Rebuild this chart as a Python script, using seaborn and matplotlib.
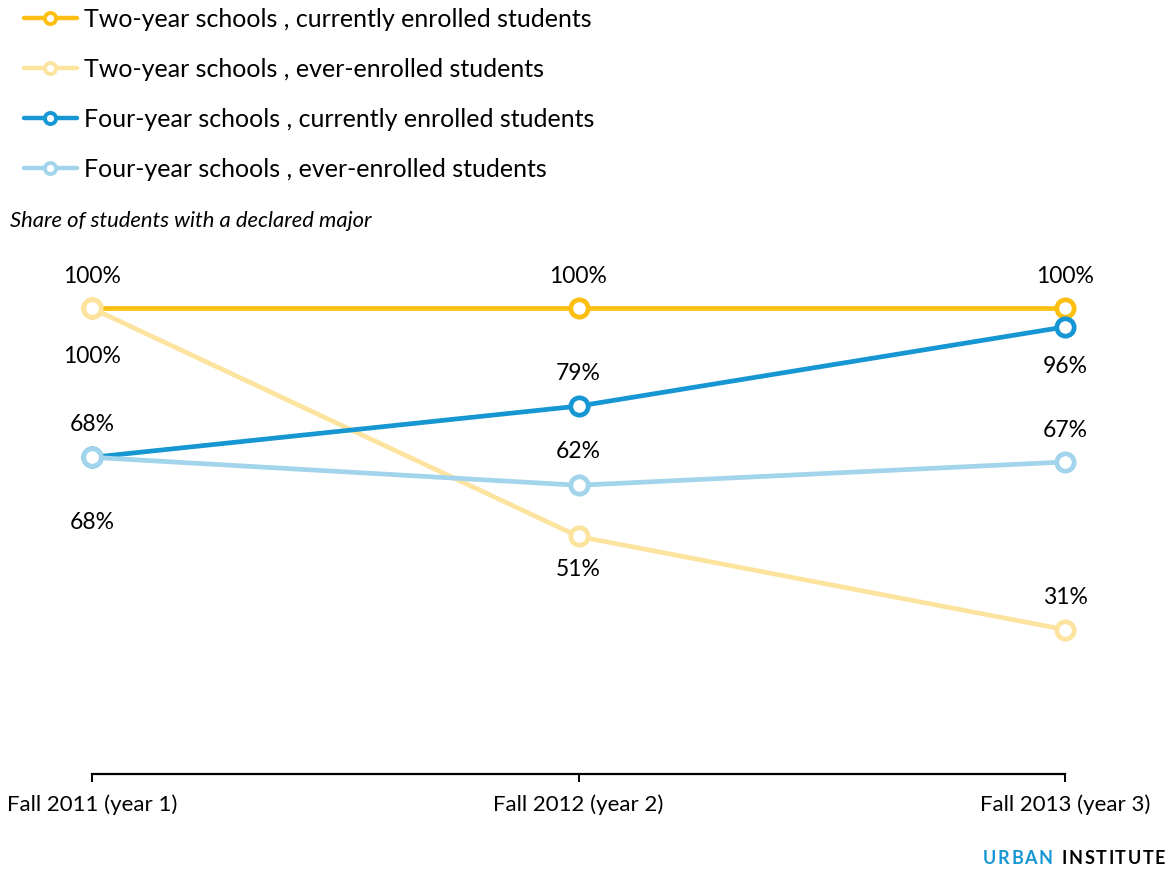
import matplotlib
matplotlib.use("Agg")
import matplotlib.pyplot as plt
import seaborn as sns
import pandas as pd
from matplotlib.lines import Line2D

# ---- data ----
periods = ["Fall 2011 (year 1)", "Fall 2012 (year 2)", "Fall 2013 (year 3)"]
series_names = [
    "Two-year schools , currently enrolled students",
    "Two-year schools , ever-enrolled students",
    "Four-year schools , currently enrolled students",
    "Four-year schools , ever-enrolled students",
]
two_year_current = [100, 100, 100]
two_year_ever = [100, 51, 31]
four_year_current = [68, 79, 96]
four_year_ever = [68, 62, 67]
subtitle = "Share of students with a declared major"
brand_left = "URBAN"
brand_right = "INSTITUTE"

# ---- styles ----
colors = ["#fdbf11", "#fce39e", "#1696d2", "#a2d4ec"]
# label offsets (pixels, + is above the point)
label_offsets = [
    [32, 32, 32],
    [-48, -33, 32],
    [33, 33, -40],
    [-65, 34, 31],
]

values = [two_year_current, two_year_ever, four_year_current, four_year_ever]
rows = []
for name, vals in zip(series_names, values):
    for i, v in enumerate(vals):
        rows.append({"series": name, "x": i, "value": v})
df = pd.DataFrame(rows)

sns.set_theme(style="white")
plt.rcParams["font.family"] = ["Lato", "DejaVu Sans"]
plt.rcParams["text.color"] = "black"

W, H = 1168, 869
fig = plt.figure(figsize=(W / 100, H / 100), dpi=100)
ax_left, ax_right = 92 / W, 1065 / W
ax_bottom = (H - 774) / H
ax_top = (H - 285) / H
ax = fig.add_axes([ax_left, ax_bottom, ax_right - ax_left, ax_top - ax_bottom])

for name, col in zip(series_names, colors):
    sub = df[df["series"] == name]
    sns.lineplot(data=sub, x="x", y="value", ax=ax, color=col, linewidth=3.4,
                 marker="o", markersize=12.5, markerfacecolor="white",
                 markeredgecolor=col, markeredgewidth=3.4, clip_on=False,
                 label=name, legend=False)

ax.set_xlim(0, 2)
ax.set_ylim(0, 105)
ax.set_xticks([0, 1, 2])
ax.set_xticklabels(periods, fontsize=16, color="black")
ax.set_yticks([])
ax.set_xlabel("")
ax.set_ylabel("")
for s in ["top", "right", "left"]:
    ax.spines[s].set_visible(False)
ax.spines["bottom"].set_color("black")
ax.spines["bottom"].set_linewidth(1.6)
ax.tick_params(axis="x", direction="out", length=6, width=1.4, color="black",
               pad=9, bottom=True)

# point labels
for vals, offs in zip(values, label_offsets):
    for i, (v, o) in enumerate(zip(vals, offs)):
        ax.annotate(f"{v}%", (i, v), xytext=(0, o), textcoords="offset pixels",
                    ha="center", va="center", fontsize=16.5, color="black")

# legend
handles = [Line2D([0], [0], color=c, linewidth=3.2, marker="o", markersize=8,
                  markerfacecolor="white", markeredgecolor=c, markeredgewidth=2.8)
           for c in colors]
fig.legend(handles, series_names, loc="upper left",
           bbox_to_anchor=(24 / W, 1 - 8 / H), frameon=False, fontsize=18,
           handlelength=2.1, handletextpad=0.3, labelspacing=1.08,
           borderpad=0, borderaxespad=0, labelcolor="black")

fig.text(10 / W, 1 - 221 / H, subtitle, fontsize=15.8, style="italic",
         ha="left", va="center", color="black")

# brand (letter-spaced)
fig.canvas.draw()
renderer = fig.canvas.get_renderer()
tracking = 1.6
y_brand = 1 - 858 / H


def draw_spaced(word, x_right, color):
    # draw right to left; returns left edge (pixels)
    x = x_right
    for ch in reversed(word):
        t = fig.text(x / W, y_brand, ch, fontsize=13, fontweight="bold",
                     ha="right", va="center", color=color)
        w = t.get_window_extent(renderer).width
        x -= w + tracking
    return x + tracking


left = draw_spaced(brand_right, 1165, "black")
draw_spaced(brand_left, left - 9, "#1696d2")

fig.savefig("out.png", dpi=100)
